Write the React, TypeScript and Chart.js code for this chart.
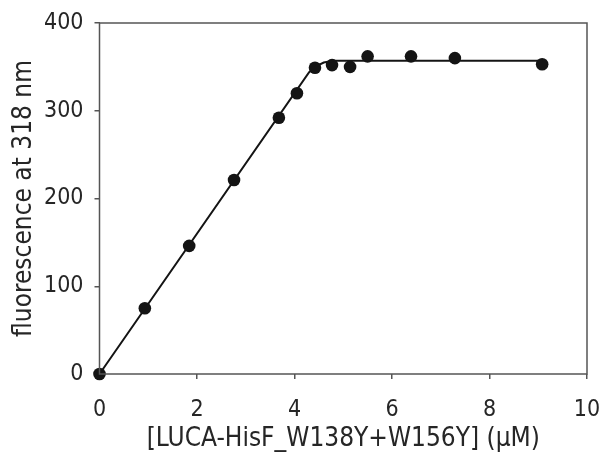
import React, { useEffect, useRef } from "react";
import { Chart, registerables } from "chart.js";

Chart.register(...registerables);

const concX = [0, 0.93, 1.84, 2.76, 3.68, 4.05, 4.42, 4.77, 5.14, 5.5, 6.39, 7.29, 9.08];
const fluorY = [0, 75, 146, 221, 292, 320, 349, 352, 350, 362, 362, 360, 353];
const fitX = [0, 4.3, 4.45, 4.6, 4.8, 9.08];
const fitY = [0, 344, 351, 355, 357, 357];
const xTicks = [0, 2, 4, 6, 8, 10];
const yTicks = [0, 100, 200, 300, 400];
const xTitle = "[LUCA-HisF_W138Y+W156Y] (µM)";
const yTitle = "fluorescence at 318 nm";

const FONT = "'DejaVu Sans Condensed', 'DejaVu Sans', sans-serif";
const AXIS = "#555555";
const INK = "#141414";
const TEXT = "#262626";

const framePlugin = {
  id: "frame",
  afterDraw(chart: any) {
    const { ctx, chartArea: a } = chart;
    ctx.save();
    ctx.strokeStyle = AXIS;
    ctx.lineWidth = 1.5;
    ctx.strokeRect(a.left, a.top, a.right - a.left, a.bottom - a.top);
    ctx.restore();
  },
};

export default function App() {
  const ref = useRef<HTMLCanvasElement | null>(null);
  useEffect(() => {
    document.body.style.margin = "0";
    const chart = new Chart(ref.current as HTMLCanvasElement, {
      type: "scatter",
      data: {
        datasets: [
          {
            label: "fit",
            data: fitX.map((x, i) => ({ x, y: fitY[i] })),
            showLine: true,
            borderColor: INK,
            borderWidth: 2,
            pointRadius: 0,
            fill: false,
            clip: false,
          },
          {
            label: "data",
            data: concX.map((x, i) => ({ x, y: fluorY[i] })),
            backgroundColor: INK,
            borderColor: INK,
            pointRadius: 6.3,
            borderWidth: 0,
            clip: false,
          },
        ],
      },
      plugins: [framePlugin],
      options: {
        animation: false,
        responsive: false,
        maintainAspectRatio: false,
        layout: { padding: { left: 0, right: 14, top: 23, bottom: 0 } },
        plugins: { legend: { display: false }, tooltip: { enabled: false } },
        scales: {
          x: {
            type: "linear",
            min: 0,
            max: 10,
            afterBuildTicks: (s: any) => {
              s.ticks = xTicks.map((v) => ({ value: v }));
            },
            afterFit: (s: any) => {
              s.height = 78;
              s.paddingLeft = 0;
              s.paddingRight = 0;
            },
            border: { display: false },
            grid: { drawOnChartArea: false, drawTicks: true, tickLength: 5, color: AXIS, lineWidth: 1.5 },
            ticks: { color: TEXT, font: { family: FONT, size: 23 }, padding: 17, maxRotation: 0 },
            title: {
              display: true,
              text: xTitle,
              color: TEXT,
              font: { family: FONT, size: 26, lineHeight: 1 },
              padding: { top: 0, bottom: 0 },
            },
          },
          y: {
            type: "linear",
            min: 0,
            max: 400,
            afterBuildTicks: (s: any) => {
              s.ticks = yTicks.map((v) => ({ value: v }));
            },
            afterFit: (s: any) => {
              s.width = 99.5;
              s.paddingTop = 0;
              s.paddingBottom = 0;
            },
            border: { display: false },
            grid: { drawOnChartArea: false, drawTicks: true, tickLength: 5, color: AXIS, lineWidth: 1.5 },
            ticks: { color: TEXT, font: { family: FONT, size: 23 }, padding: 11 },
            title: {
              display: true,
              text: yTitle,
              color: TEXT,
              font: { family: FONT, size: 26, lineHeight: 1 },
              padding: { top: 11.5, bottom: 0 },
            },
          },
        },
      },
    } as any);
    return () => chart.destroy();
  }, []);
  return (
    <div style={{ position: "fixed", left: 0, top: 0, width: 601, height: 452, background: "#fff" }}>
      <canvas ref={ref} width={601} height={452} style={{ width: 601, height: 452 }} />
    </div>
  );
}
